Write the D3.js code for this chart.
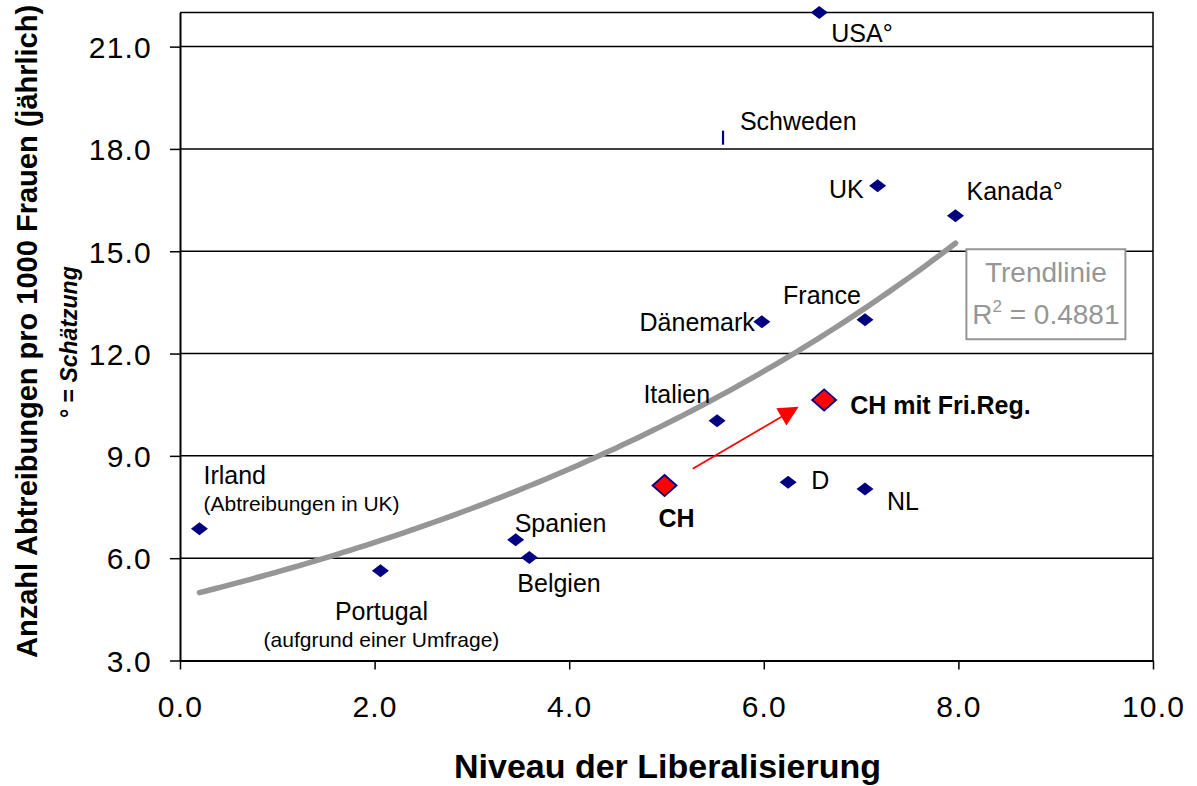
<!DOCTYPE html>
<html>
<head>
<meta charset="utf-8">
<script src="https://cdn.jsdelivr.net/npm/d3@7"></script>
<style>
  body { margin: 0; background: #fff; }
  svg { display: block; font-family: "Liberation Sans", Arial, sans-serif; }
</style>
</head>
<body>
<svg id="chart" width="1197" height="786"></svg>
<script>
// data
const countries = ["Irland", "Portugal", "Spanien", "Belgien", "CH", "Italien", "Schweden",
                   "Dänemark", "D", "USA°", "France", "NL", "UK", "Kanada°", "CH mit Fri.Reg."];
const liberal   = [0.20, 2.06, 3.45, 3.59, 4.98, 5.52, 5.58, 5.98, 6.25, 6.57, 7.04, 7.04, 7.17, 7.97, 6.62];
const abortions = [6.86, 5.63, 6.54, 6.02, 8.13, 10.03, 18.33, 12.93, 8.23, 22.0, 12.99, 8.03, 16.92, 16.04, 10.64];
const notes = { "Irland": "(Abtreibungen in UK)", "Portugal": "(aufgrund einer Umfrage)" };
const highlighted = ["CH", "CH mit Fri.Reg."];
const notInTrend = ["CH mit Fri.Reg."];
const xTicks = [0, 2, 4, 6, 8, 10];
const yTicks = [3, 6, 9, 12, 15, 18, 21];
const trendLabel = "Trendlinie";
const r2Label = "0.4881";
const arrowFrom = [5.27, 8.62];
const arrowTo = [6.34, 10.41];

// label placement (offsets from the marker, px)
const labelPos = {
  "Irland":   { dx: 4,   dy: -45, anchor: "start" },
  "Portugal": { dx: 1,   dy: 49,  anchor: "middle" },
  "Spanien":  { dx: -1,  dy: -8,  anchor: "start" },
  "Belgien":  { dx: -12, dy: 34,  anchor: "start" },
  "CH":       { dx: -6,  dy: 41,  anchor: "start" },
  "Italien":  { dx: -7,  dy: -18, anchor: "end" },
  "Schweden": { dx: 17,  dy: -8,  anchor: "start" },
  "Dänemark": { dx: -7,  dy: 9,   anchor: "end" },
  "D":        { dx: 23,  dy: 7,   anchor: "start" },
  "USA°":     { dx: 12,  dy: 29,  anchor: "start" },
  "France":   { dx: -43, dy: -16, anchor: "middle" },
  "NL":       { dx: 22,  dy: 21,  anchor: "start" },
  "UK":       { dx: -14, dy: 12,  anchor: "end" },
  "Kanada°":  { dx: 11,  dy: -16, anchor: "start" },
  "CH mit Fri.Reg.": { dx: 26, dy: 14, anchor: "start" }
};

const points = countries.map((c, i) => ({ name: c, x: liberal[i], y: abortions[i] }));

const svg = d3.select("#chart");
const x = d3.scaleLinear().domain([0, 10]).range([180, 1153]);
const y = d3.scaleLinear().domain([3, 22]).range([660.5, 12.5]);

// gridlines
svg.append("g")
  .selectAll("line")
  .data(yTicks.filter(d => d > 3))
  .enter()
  .append("line")
  .attr("x1", x(0)).attr("x2", x(10))
  .attr("y1", d => y(d)).attr("y2", d => y(d))
  .attr("stroke", "#000").attr("stroke-width", 1.5);

// frame top/right
svg.append("path")
  .attr("fill", "none").attr("stroke", "#000").attr("stroke-width", 1.5)
  .attr("d", `M${x(0)},${y(22)}H${x(10)}V${y(3)}`);

// axes
let yAxis = svg.append("g")
  .attr("transform", `translate(${x(0)},0)`)
  .call(d3.axisLeft(y).tickValues(yTicks).tickSize(10).tickSizeOuter(0).tickPadding(18)
        .tickFormat(d3.format(".1f")));
let xAxis = svg.append("g")
  .attr("transform", `translate(0,${y(3)})`)
  .call(d3.axisBottom(x).tickValues(xTicks).tickSize(9).tickSizeOuter(0).tickPadding(20)
        .tickFormat(d3.format(".1f")));
[yAxis, xAxis].forEach(a => {
  a.select(".domain").attr("stroke", "#000").attr("stroke-width", 2);
  a.selectAll(".tick line").attr("stroke", "#000").attr("stroke-width", 1.5);
  a.selectAll(".tick text").attr("fill", "#000").attr("font-size", 30)
   .attr("font-family", "Liberation Sans, Arial, sans-serif").attr("letter-spacing", 1.2);
});
xAxis.selectAll(".tick text").attr("dy", "0.9em");
yAxis.selectAll(".tick text").attr("dy", "0.36em");

// axis titles
svg.append("text")
  .attr("transform", `translate(37,658) rotate(-90)`)
  .attr("font-size", 29).attr("font-weight", "bold")
  .text("Anzahl Abtreibungen pro 1000 Frauen (jährlich)");
let sub = svg.append("text")
  .attr("transform", `translate(77,418) rotate(-90)`)
  .attr("font-size", 23).attr("font-weight", "bold");
sub.append("tspan").text("° = ");
sub.append("tspan").attr("font-style", "italic").text("Schätzung");

svg.append("text")
  .attr("x", (x(0) + x(10)) / 2 + 1).attr("y", 778)
  .attr("text-anchor", "middle")
  .attr("font-size", 34).attr("font-weight", "bold")
  .text("Niveau der Liberalisierung");

// markers
let diamond = (w, h) => `M0,${-h}L${w},0L0,${h}L${-w},0Z`;
let marks = svg.append("g");
marks.selectAll("path")
  .data(points.filter(d => d.name !== "Schweden"))
  .enter()
  .append("path")
  .attr("transform", d => `translate(${x(d.x)},${y(d.y)})`)
  .attr("d", d => highlighted.includes(d.name) ? diamond(12, 10.5) : diamond(8.5, 6.5))
  .attr("fill", d => highlighted.includes(d.name) ? "#ff0000" : "#000080")
  .attr("stroke", "#000080")
  .attr("stroke-width", d => highlighted.includes(d.name) ? 1.8 : 0);
marks.selectAll("rect")
  .data(points.filter(d => d.name === "Schweden"))
  .enter()
  .append("rect")
  .attr("x", d => x(d.x) - 1).attr("y", d => y(d.y) - 7)
  .attr("width", 2.2).attr("height", 14)
  .attr("fill", "#000080");

// exponential trendline (least squares on ln y)
let trendPts = points.filter(d => !notInTrend.includes(d.name));
let mx = d3.mean(trendPts, d => d.x);
let my = d3.mean(trendPts, d => Math.log(d.y));
let b = d3.sum(trendPts, d => (d.x - mx) * (Math.log(d.y) - my)) / d3.sum(trendPts, d => (d.x - mx) ** 2);
let a = Math.exp(my - b * mx);
let ext = d3.extent(trendPts, d => d.x);
let curveX = d3.range(ext[0], ext[1] + 1e-9, (ext[1] - ext[0]) / 100);
let trendLine = d3.line().x(d => x(d)).y(d => y(a * Math.exp(b * d)));
svg.append("path")
  .attr("fill", "none").attr("stroke", "#969696").attr("stroke-width", 5.5)
  .attr("stroke-linecap", "round")
  .attr("d", trendLine(curveX));

// trend label box
let box = svg.append("g").attr("transform", `translate(${x(8) + 8},${y(15) - 2})`);
box.append("rect").attr("width", 159).attr("height", 90)
  .attr("fill", "#fff").attr("stroke", "#969696").attr("stroke-width", 2);
box.append("text").attr("x", 79.5).attr("y", 33).attr("text-anchor", "middle")
  .attr("font-size", 28).attr("fill", "#969696").text(trendLabel);
let r2 = box.append("text").attr("x", 79.5).attr("y", 75).attr("text-anchor", "middle")
  .attr("font-size", 28).attr("fill", "#969696");
r2.append("tspan").text("R");
r2.append("tspan").attr("font-size", 17).attr("dy", -12).text("2");
r2.append("tspan").attr("dy", 12).text(" = " + r2Label);

// labels
let labels = svg.append("g");
points.forEach(d => {
  let p = labelPos[d.name];
  labels.append("text")
    .attr("x", x(d.x) + p.dx).attr("y", y(d.y) + p.dy)
    .attr("text-anchor", p.anchor)
    .attr("font-size", 25)
    .attr("font-weight", highlighted.includes(d.name) ? "bold" : "normal")
    .attr("fill", "#000")
    .text(d.name);
  if (notes[d.name]) {
    labels.append("text")
      .attr("x", x(d.x) + p.dx).attr("y", y(d.y) + p.dy + 27)
      .attr("text-anchor", p.anchor)
      .attr("font-size", 21).attr("fill", "#000")
      .text(notes[d.name]);
  }
});

// red arrow
svg.append("defs").append("marker")
  .attr("id", "head").attr("viewBox", "0 0 10 10")
  .attr("refX", 9).attr("refY", 5)
  .attr("markerWidth", 22).attr("markerHeight", 20)
  .attr("markerUnits", "userSpaceOnUse")
  .attr("orient", "auto")
  .append("path").attr("d", "M0,0L10,5L0,10Z").attr("fill", "#ff0000");
svg.append("line")
  .attr("x1", x(arrowFrom[0])).attr("y1", y(arrowFrom[1]))
  .attr("x2", x(arrowTo[0])).attr("y2", y(arrowTo[1]))
  .attr("stroke", "#ff0000").attr("stroke-width", 1.8)
  .attr("marker-end", "url(#head)");
</script>
</body>
</html>
